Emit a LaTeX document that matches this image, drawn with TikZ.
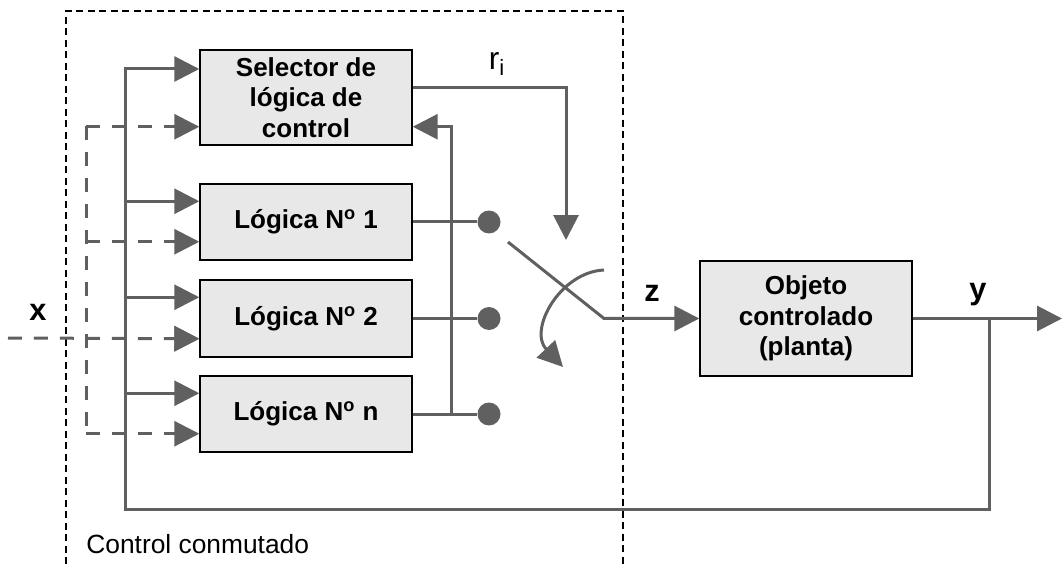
\documentclass[tikz,border=0pt]{standalone}
\usepackage{fontspec}
\setmainfont{Liberation Sans}
\usetikzlibrary{arrows.meta,calc}
\definecolor{lgray}{RGB}{96,96,96}
\definecolor{boxgray}{RGB}{232,232,232}
\begin{document}
\begin{tikzpicture}[x=0.02cm,y=-0.02cm]
\tikzstyle{myblock} = [draw=black, line width=0.03cm, fill=boxgray, minimum width=4.24cm, inner sep=0pt, align=center, font=\fontsize{14.8}{17.5}\selectfont\bfseries]
\tikzstyle{mydot} = [circle, fill=lgray, minimum size=0.46cm, inner sep=0pt]
\tikzstyle{myline} = [draw=lgray, line width=0.06cm]
\tikzstyle{myarrow} = [myline, -{Triangle[length=0.5cm,width=0.5cm]}]
\tikzstyle{mydash} = [dash pattern=on 0.28cm off 0.24cm]
\tikzstyle{mylabel} = [inner sep=0pt, font=\fontsize{17.5}{20}\selectfont\bfseries]
\useasboundingbox (0,0) rectangle (1062,564);
\draw[black, line width=0.03cm, dash pattern=on 0.14cm off 0.09cm] (66,564) -- (66,11) -- (623,11) -- (623,564);
	\node[myblock, minimum height=1.9cm] (sel) at (306,97.5) {Selector de\\lógica de\\control};
	\node[myblock, minimum height=1.52cm] (log1) at (306,222) {Lógica N\textsuperscript{o} 1};
	\node[myblock, minimum height=1.54cm] (log2) at (306,318.5) {Lógica N\textsuperscript{o} 2};
	\node[myblock, minimum height=1.52cm] (logn) at (306,414) {Lógica N\textsuperscript{o} n};
	\node[myblock, minimum height=2.3cm] (obj) at (806,318.5) {Objeto\\controlado\\(planta)};
	\node[mydot] (dot1) at (489,222) {};
	\node[mydot] (dot2) at (489,318.5) {};
	\node[mydot] (dotn) at (489,414) {};
	\node[mylabel] (xlab) at (38,312) {x};
	\node[mylabel] (zlab) at (652,293) {z};
	\node[mylabel] (ylab) at (978,295) {y};
	\node[inner sep=0pt, font=\fontsize{18}{20}\selectfont] (rlab) at (497,64) {r\textsubscript{i}};
	\node[anchor=base west, inner sep=0pt, font=\fontsize{15}{18}\selectfont] (ctrl) at (86,553) {Control conmutado};
\coordinate (busT) at (125,69);
\coordinate (busB) at (125,509);
\coordinate (dbT) at (86,126);
\coordinate (dbB) at (86,433);
\coordinate (xin) at (8,338);
\coordinate (fb) at (451,414);
\coordinate (ri) at (566,88);
\coordinate (swtop) at (566,240);
\coordinate (swA) at (508,242);
\coordinate (swP) at (604,318.5);
\coordinate (arcS) at (604,270);
\coordinate (arcE) at (563,367);
\coordinate (ybr) at (989,318.5);
\coordinate (yend) at (1062,318.5);
\draw[myarrow] (ybr) |- (busB) -- (busT) -- (busT -| sel.west);
\foreach \b in {log1,log2,logn}
	\draw[myarrow] ($(busT |- \b.north west)+(0,18)$) -- ($(\b.north west)+(0,18)$);
\draw[myline, mydash] (dbT) -- (dbB);
\foreach \b in {sel,log1,log2,logn}
	\draw[myarrow, mydash] ($(dbT |- \b.south west)+(0,-19)$) -- ($(\b.south west)+(0,-19)$);
\draw[myarrow, mydash] (xin) -- ($(log2.south west)+(0,-19)$);
\draw[myline] (log1) -- (dot1);
\draw[myline] (log2) -- (dot2);
\draw[myline] (logn) -- (dotn);
\draw[myarrow] (fb) |- ($(sel.south east)+(0,-19)$);
\draw[myarrow] (sel.east |- ri) -| (swtop);
\draw[myarrow] (swA) -- (swP) -- (obj.west);
\draw[myarrow] (arcS) .. controls (560,272) and (528,330) .. (arcE);
\draw[myarrow] (obj) -- (yend);
\end{tikzpicture}
\end{document}
